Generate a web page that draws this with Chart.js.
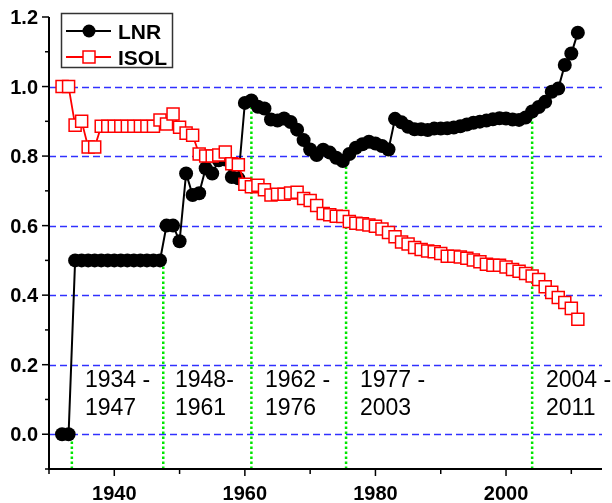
<!DOCTYPE html>
<html>
<head>
<meta charset="utf-8">
<script src="https://cdn.jsdelivr.net/npm/chart.js@4/dist/chart.umd.min.js"></script>
<style>
  html, body { margin: 0; padding: 0; background: #fff; overflow: hidden; }
  #wrap { width: 612px; height: 503px; position: relative; }
</style>
</head>
<body>
<div id="wrap"><canvas id="c" width="612" height="503"></canvas></div>
<script>
// Yearly series, 1932-2011
const years = [1932, 1933, 1934, 1935, 1936, 1937, 1938, 1939, 1940, 1941,
  1942, 1943, 1944, 1945, 1946, 1947, 1948, 1949, 1950, 1951,
  1952, 1953, 1954, 1955, 1956, 1957, 1958, 1959, 1960, 1961,
  1962, 1963, 1964, 1965, 1966, 1967, 1968, 1969, 1970, 1971,
  1972, 1973, 1974, 1975, 1976, 1977, 1978, 1979, 1980, 1981,
  1982, 1983, 1984, 1985, 1986, 1987, 1988, 1989, 1990, 1991,
  1992, 1993, 1994, 1995, 1996, 1997, 1998, 1999, 2000, 2001,
  2002, 2003, 2004, 2005, 2006, 2007, 2008, 2009, 2010, 2011];

const lnr = [0.0, 0.0, 0.5, 0.5, 0.5, 0.5, 0.5, 0.5, 0.5, 0.5,
  0.5, 0.5, 0.5, 0.5, 0.5, 0.5, 0.60, 0.60, 0.555, 0.75,
  0.688, 0.693, 0.765, 0.75, 0.788, 0.79, 0.74, 0.736, 0.953, 0.96,
  0.942, 0.937, 0.905, 0.902, 0.908, 0.898, 0.876, 0.846, 0.819, 0.803,
  0.818, 0.81, 0.795, 0.786, 0.806, 0.824, 0.834, 0.841, 0.836, 0.829,
  0.819, 0.907, 0.897, 0.884, 0.877, 0.877, 0.875, 0.879, 0.879, 0.880,
  0.882, 0.886, 0.891, 0.896, 0.899, 0.902, 0.906, 0.909, 0.908, 0.905,
  0.904, 0.911, 0.928, 0.941, 0.956, 0.985, 0.994, 1.062, 1.095, 1.155];

const isol = [1.0, 1.0, 0.889, 0.90, 0.826, 0.826, 0.886, 0.886, 0.886, 0.886,
  0.886, 0.886, 0.886, 0.886, 0.886, 0.904, 0.892, 0.921, 0.883, 0.866,
  0.860, 0.806, 0.800, 0.800, 0.803, 0.812, 0.778, 0.775, 0.719, 0.712,
  0.716, 0.703, 0.688, 0.690, 0.690, 0.694, 0.696, 0.678, 0.672, 0.658,
  0.635, 0.631, 0.627, 0.626, 0.612, 0.607, 0.605, 0.602, 0.598, 0.590,
  0.580, 0.568, 0.553, 0.547, 0.537, 0.531, 0.527, 0.525, 0.520, 0.512,
  0.512, 0.510, 0.506, 0.501, 0.496, 0.489, 0.486, 0.486, 0.481, 0.474,
  0.469, 0.462, 0.455, 0.445, 0.424, 0.408, 0.393, 0.379, 0.362, 0.331];

// Period boundaries (dotted verticals) and the LNR level each one reaches
const dividerYears = [1933.5, 1947.5, 1961, 1975.5, 2004];
const dividerTops = [0.0, 0.5, 0.96, 0.79, 0.92];
const periodLabels = [['1934 -', '1947'], ['1948-', '1961'], ['1962 -', '1976'], ['1977 -', '2003'], ['2004 -', '2011']];

// Axis ticks
const xTicks = [1930, 1940, 1950, 1960, 1970, 1980, 1990, 2000, 2010];
const xTickLabels = ['', '1940', '', '1960', '', '1980', '', '2000', ''];
const yTicks = [-0.1, 0.0, 0.1, 0.2, 0.3, 0.4, 0.5, 0.6, 0.7, 0.8, 0.9, 1.0, 1.1, 1.2];
const yTickLabels = ['', '0.0', '', '0.2', '', '0.4', '', '0.6', '', '0.8', '', '1.0', '', '1.2'];
const gridValues = [0.0, 0.2, 0.4, 0.6, 0.8, 1.0];
const seriesNames = ['LNR', 'ISOL'];

const FONT = '"Liberation Sans", Arial, sans-serif';

const dividerSets = dividerYears.map((yr, i) => ({
  label: 'div' + i,
  data: [{ x: yr, y: -0.1 }, { x: yr, y: dividerTops[i] }],
  borderColor: '#00e600',
  borderWidth: 2.5,
  borderDash: [2.5, 2.5],
  pointRadius: 0,
  order: 2
}));

const gridPlugin = {
  id: 'dashedGrid',
  beforeDatasetsDraw(chart) {
    const { ctx, chartArea, scales } = chart;
    ctx.save();
    ctx.strokeStyle = '#3030ff';
    ctx.lineWidth = 1.5;
    ctx.setLineDash([7, 4]);
    gridValues.forEach(v => {
      const y = Math.round(scales.y.getPixelForValue(v)) + 0.5;
      ctx.beginPath();
      ctx.moveTo(chartArea.left, y);
      ctx.lineTo(chartArea.right, y);
      ctx.stroke();
    });
    ctx.restore();
  }
};

const axesPlugin = {
  id: 'axesAndText',
  afterDraw(chart) {
    const { ctx, chartArea, scales } = chart;
    const left = chartArea.left, bottom = chartArea.bottom;
    ctx.save();
    ctx.strokeStyle = '#000';
    ctx.lineWidth = 2;
    ctx.setLineDash([]);
    // axis lines
    ctx.beginPath();
    ctx.moveTo(left, chartArea.top);
    ctx.lineTo(left, bottom);
    ctx.lineTo(chartArea.right, bottom);
    ctx.stroke();
    // y ticks
    ctx.lineWidth = 1.5;
    yTicks.forEach((v, i) => {
      const y = scales.y.getPixelForValue(v);
      const len = yTickLabels[i] ? 7 : 4;
      ctx.beginPath();
      ctx.moveTo(left - len, y);
      ctx.lineTo(left, y);
      ctx.stroke();
    });
    // x ticks
    xTicks.forEach((v, i) => {
      const x = scales.x.getPixelForValue(v);
      const len = xTickLabels[i] ? 7 : 5;
      ctx.beginPath();
      ctx.moveTo(x, bottom);
      ctx.lineTo(x, bottom + len);
      ctx.stroke();
    });
    // tick labels
    ctx.fillStyle = '#000';
    ctx.font = 'bold 20px ' + FONT;
    ctx.textAlign = 'right';
    ctx.textBaseline = 'alphabetic';
    yTicks.forEach((v, i) => {
      if (!yTickLabels[i]) return;
      ctx.fillText(yTickLabels[i], 38, scales.y.getPixelForValue(v) + 7);
    });
    ctx.textAlign = 'center';
    xTicks.forEach((v, i) => {
      if (!xTickLabels[i]) return;
      ctx.fillText(xTickLabels[i], scales.x.getPixelForValue(v), 500);
    });
    // period annotations
    const labelX = [85, 175, 265, 360, 546];
    ctx.font = '23px ' + FONT;
    ctx.textAlign = 'left';
    periodLabels.forEach((lines, i) => {
      ctx.fillText(lines[0], labelX[i], 387);
      ctx.fillText(lines[1], labelX[i], 415);
    });
    // legend box
    ctx.lineWidth = 1.5;
    ctx.strokeStyle = '#333';
    ctx.strokeRect(61.5, 13.5, 111, 54);
    const rowY = [31, 57];
    // LNR entry
    ctx.strokeStyle = '#000';
    ctx.lineWidth = 2;
    ctx.beginPath(); ctx.moveTo(66, rowY[0]); ctx.lineTo(111, rowY[0]); ctx.stroke();
    ctx.beginPath(); ctx.arc(89, rowY[0], 6.5, 0, Math.PI * 2); ctx.fillStyle = '#000'; ctx.fill();
    // ISOL entry
    ctx.strokeStyle = '#ff0000';
    ctx.beginPath(); ctx.moveTo(66, rowY[1]); ctx.lineTo(111, rowY[1]); ctx.stroke();
    ctx.fillStyle = '#fff';
    ctx.fillRect(83, rowY[1] - 6, 12, 12);
    ctx.lineWidth = 1.5;
    ctx.strokeRect(83, rowY[1] - 6, 12, 12);
    ctx.fillStyle = '#000';
    ctx.font = 'bold 21px ' + FONT;
    ctx.textAlign = 'left';
    ctx.fillText(seriesNames[0], 118, rowY[0] + 8);
    ctx.fillText(seriesNames[1], 118, rowY[1] + 8);
    ctx.restore();
  }
};

new Chart(document.getElementById('c'), {
  type: 'line',
  data: {
    datasets: [
      {
        label: seriesNames[0],
        data: years.map((yr, i) => ({ x: yr, y: lnr[i] })),
        borderColor: '#000',
        borderWidth: 2,
        pointRadius: 7,
        pointBackgroundColor: '#000',
        pointBorderColor: '#000',
        pointBorderWidth: 0,
        order: 1
      },
      {
        label: seriesNames[1],
        data: years.map((yr, i) => ({ x: yr, y: isol[i] })),
        borderColor: '#ff0000',
        borderWidth: 1.8,
        pointStyle: 'rect',
        pointRadius: 8.5,
        pointBackgroundColor: '#fff',
        pointBorderColor: '#ff0000',
        pointBorderWidth: 1.5,
        order: 0
      },
      ...dividerSets
    ]
  },
  options: {
    responsive: false,
    animation: false,
    devicePixelRatio: 1,
    layout: { padding: { left: 49, top: 17, right: 0, bottom: 34 } },
    scales: {
      x: { type: 'linear', min: 1930, max: 2014.7, display: false },
      y: { type: 'linear', min: -0.1, max: 1.2, display: false }
    },
    plugins: { legend: { display: false }, tooltip: { enabled: false } },
    elements: { line: { tension: 0 } }
  },
  plugins: [gridPlugin, axesPlugin]
});
</script>
</body>
</html>
